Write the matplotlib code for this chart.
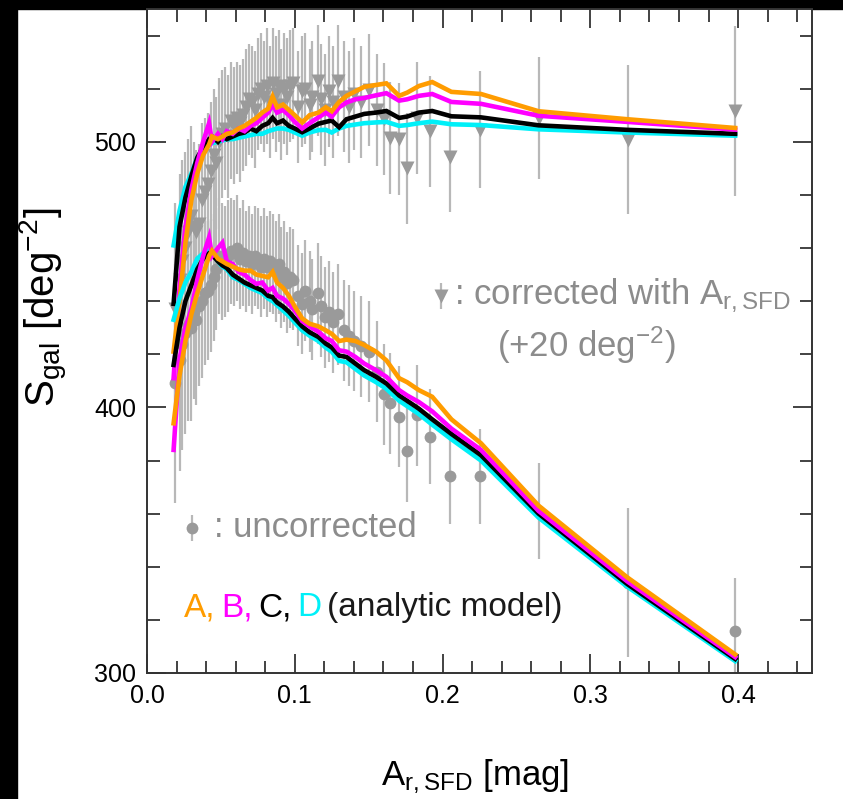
import matplotlib
matplotlib.use("Agg")
import matplotlib.pyplot as plt
import numpy as np

plt.rcParams['font.family'] = ['Liberation Sans', 'DejaVu Sans']
plt.rcParams['mathtext.fontset'] = 'custom'
plt.rcParams['mathtext.rm'] = 'Liberation Sans'
plt.rcParams['mathtext.it'] = 'Liberation Sans:italic'
plt.rcParams['mathtext.bf'] = 'Liberation Sans:bold'

# ---------------- data: observed bins ----------------
x_obs = [0.019, 0.022, 0.024, 0.026, 0.028, 0.030, 0.032, 0.033, 0.035, 0.037,
         0.039, 0.041, 0.043, 0.045, 0.047, 0.049, 0.051, 0.053, 0.055, 0.057,
         0.059, 0.061, 0.063, 0.065, 0.067, 0.069, 0.071, 0.073, 0.075, 0.077,
         0.079, 0.081, 0.083, 0.085, 0.087, 0.089, 0.091, 0.093, 0.095, 0.097,
         0.099, 0.1025, 0.105, 0.107, 0.110, 0.1115, 0.116, 0.118, 0.1205, 0.123,
         0.126, 0.1295, 0.133, 0.1365, 0.140, 0.1445, 0.150, 0.1555, 0.1605, 0.1644,
         0.1705, 0.1757, 0.1826, 0.1915, 0.2049, 0.2252, 0.2653, 0.3255, 0.398]

# corrected with A_r,SFD (+20 deg^-2)
s_corr = [437, 448, 455, 460, 466, 472, 468, 466, 469, 478,
          481, 484, 489, 495, 492, 500, 503, 505, 502, 508,
          506, 509, 507, 510, 513, 516, 515, 512, 518, 520,
          517, 521, 515, 522, 518, 521, 514, 520, 517, 521,
          522, 513, 519, 520, 514, 517, 523, 516, 512, 519,
          515, 523, 517, 513, 518, 515, 519.6, 512, 508.6, 501.4,
          501, 490, 508.9, 503.9, 494.4, 504.5, 509, 500.8, 511.5]
e_corr = [40, 40, 38, 36, 35, 34, 32, 31, 30, 29,
          28, 27, 26, 25, 25, 24, 24, 23, 23, 22,
          22, 21, 22, 21, 22, 21, 21, 22, 21, 21,
          21, 22, 21, 21, 22, 21, 21, 21, 22, 21,
          21, 21, 21, 21, 21, 21, 21, 21, 21, 21,
          21, 21, 21, 21, 21, 21, 21, 21, 21, 21,
          21, 21, 21, 21, 21, 22, 23, 28, 32]

# uncorrected
s_unc = [409, 418, 424, 428, 431, 430, 436, 433, 438, 440,
         443, 444, 446, 449, 452, 457, 455, 455, 457, 459,
         458, 460, 456, 458, 455, 457, 454, 457, 456, 453,
         456, 453, 455, 454, 451, 454, 449, 451, 447, 449,
         448, 442, 439, 444, 440, 437, 443, 438, 434, 436,
         432, 435, 429, 427, 425, 423, 421, 413.5, 405, 401.6,
         396.5, 383.4, 397, 389, 374, 374, 361, 334, 315.8]
e_unc = [45, 42, 40, 38, 36, 35, 33, 32, 30, 29,
         27, 26, 25, 24, 23, 22, 22, 21, 21, 20,
         20, 20, 19, 20, 19, 19, 19, 19, 19, 19,
         19, 19, 19, 19, 19, 19, 19, 19, 19, 19,
         19, 19, 19, 19, 19, 19, 19, 19, 19, 19,
         19, 19, 19, 19, 19, 19, 19, 19, 19, 19,
         19, 19, 19, 18, 18, 18, 18, 28, 20]

# ---------------- data: analytic models ----------------
x_mod = [0.018, 0.022, 0.026, 0.030, 0.034, 0.038, 0.042, 0.044, 0.048, 0.051,
         0.054, 0.058, 0.062, 0.066, 0.070, 0.074, 0.078, 0.082, 0.085, 0.088,
         0.092, 0.096, 0.100, 0.105, 0.110, 0.116, 0.121, 0.125, 0.130, 0.135,
         0.141, 0.147, 0.155, 0.162, 0.1706, 0.176, 0.184, 0.193, 0.206, 0.226,
         0.265, 0.325, 0.398]

A_corr = [421, 440, 462, 478, 488, 495, 499, 502, 501, 502,
          503, 503.5, 505, 506, 507.5, 509, 511, 512.5, 517, 513,
          514, 512, 510, 507.3, 510, 511, 513, 511.5, 515, 517.3,
          519, 520.7, 521.4, 522, 517.3, 518.5, 521, 522.5, 518.8, 518,
          511.5, 508.5, 505.2]
B_corr = [411, 445, 468, 482, 492, 500, 507, 500, 503, 501,
          504, 503, 505, 504, 506, 507, 509, 511, 514, 511,
          512, 510, 507.5, 505, 507, 509.2, 511, 509.5, 513, 514.8,
          516, 516.5, 517.5, 518.3, 515.5, 516, 517.3, 518, 515, 514.3,
          509.8, 507.5, 504.6]
C_corr = [439, 468, 479, 487, 494, 498, 501, 502, 500, 502,
          501, 502, 503, 503.5, 505, 504, 506, 507, 509, 507,
          508, 506, 505, 503.6, 505, 506.8, 507.5, 508, 505.5, 508.5,
          509.5, 510.5, 511, 511.6, 509, 509.5, 511, 511.6, 509.6, 509.2,
          506.2, 504.5, 503]
D_corr = [461, 474, 483, 488, 494, 497, 499, 499.5, 500, 500.5,
          501, 501, 501.5, 502, 502.5, 503, 503, 504, 504.5, 505,
          505, 504.5, 503.5, 502.3, 503.5, 504.4, 504.5, 503.5, 505, 506,
          506.5, 507, 507.3, 507.5, 506, 506.3, 507, 507.6, 506.6, 506.3,
          504.7, 503.5, 502.3]

A_unc = [394, 412, 425, 435, 443, 450, 457, 459, 456, 455,
         454, 453, 452, 451.5, 451.5, 450, 449.5, 449, 451, 447,
         445, 442, 438, 433.5, 431.5, 430.5, 429, 427.7, 425, 425.5,
         425, 423.5, 421, 417.7, 411, 409.5, 406.5, 404, 395.5, 386.5,
         363, 336, 307]
B_unc = [384, 418, 430, 437, 448, 457, 464, 457, 460, 462,
         455, 454, 451, 450, 448, 446.5, 447, 444, 445, 442,
         441, 439, 436.5, 432.5, 430.5, 428.5, 426, 425, 421.5, 421,
         419, 416.5, 414, 411.5, 406.5, 404.5, 402, 398.5, 392, 384,
         361, 334.5, 306]
C_unc = [416, 430, 440, 446, 452, 456, 458, 457.5, 455, 453.5,
         452.5, 450, 448.5, 447, 446, 445, 444, 442, 441.5, 439.5,
         438, 436, 433.5, 430.5, 428.3, 426.5, 424, 422.6, 419.5, 419,
         416.5, 414, 411.5, 409, 404.5, 402.5, 399.5, 395.5, 390, 382,
         360, 333.5, 305.3]
D_unc = [433, 441, 447, 451, 456, 458, 459, 458, 455, 453,
         452, 449, 448, 446.5, 445, 444, 443, 441, 440, 438.5,
         436.5, 434.5, 432, 429, 427, 425, 422.5, 421, 417.5, 417,
         414.5, 412, 409.5, 407, 402.5, 400.5, 397.5, 393.5, 388, 380,
         358.5, 332.5, 304.5]

x_ticks = [0.0, 0.1, 0.2, 0.3, 0.4]
y_ticks = [300, 400, 500]

# ---------------- styling ----------------
ORANGE = '#FF9C00'
MAGENTA = '#FF00FF'
BLACK = '#000000'
CYAN = '#00F0F8'
GRAY_M = '#9a9a9a'
GRAY_E = '#b8b8b8'

fig = plt.figure(figsize=(8.43, 7.99), dpi=100)
fig.patch.set_facecolor('white')
W, H = 843, 799
ax = fig.add_axes([147 / W, 1 - 673 / H, (812 - 147) / W, (673 - 9) / H])

# black frame strips of the original image
fig.patches.append(plt.Rectangle((0, 1 - 9 / H), 1, 9 / H, transform=fig.transFigure,
                                 color='black', zorder=-10))
fig.patches.append(plt.Rectangle((0, 0), 17 / W, 1, transform=fig.transFigure,
                                 color='black', zorder=-10))

# observed points
ax.errorbar(x_obs, s_corr, yerr=e_corr, fmt='v', ms=10, color=GRAY_M, mec='none',
            ecolor=GRAY_E, elinewidth=1.6, capsize=0, zorder=2)
ax.errorbar(x_obs, s_unc, yerr=e_unc, fmt='o', ms=8.5, color=GRAY_M, mec='none',
            ecolor=GRAY_E, elinewidth=1.6, capsize=0, zorder=2)

# models
lw = 3.3
for ys, c in [(D_corr, CYAN), (C_corr, BLACK), (B_corr, MAGENTA), (A_corr, ORANGE)]:
    ax.plot(x_mod, ys, color=c, lw=lw, zorder=3, solid_joinstyle='miter')
for ys, c in [(D_unc, CYAN), (C_unc, BLACK), (B_unc, MAGENTA), (A_unc, ORANGE)]:
    ax.plot(x_mod, ys, color=c, lw=lw, zorder=3, solid_joinstyle='miter')

ax.set_xlim(0, 0.45)
ax.set_ylim(300, 550)
ax.set_xticks(x_ticks)
ax.set_xticklabels(['%.1f' % t for t in x_ticks])
ax.set_yticks(y_ticks)
ax.set_xticks(np.arange(0, 0.451, 0.02), minor=True)
ax.set_yticks(np.arange(300, 551, 20), minor=True)
ax.tick_params(which='both', direction='in', top=True, right=True, color='#222222',
               labelsize=18, width=1.2, pad=8)
ax.tick_params(which='major', length=14)
ax.tick_params(which='minor', length=9)
for s in ax.spines.values():
    s.set_linewidth(1.4)
    s.set_color('#333333')

ax.set_xlabel(r'A$_{\mathrm{r,SFD}}$ [mag]', fontsize=25)
ax.xaxis.set_label_coords(0.493, -0.128)
ax.set_ylabel(r'S$_{\mathrm{gal}}$ [deg$^{-2}$]', fontsize=29)
ax.yaxis.set_label_coords(-0.116, 0.55)

# annotations
TXT_G = '#8c8c8c'
ax.errorbar([0.199], [442], yerr=[5], fmt='v', ms=10, color=GRAY_M, mec='none',
            ecolor=GRAY_E, elinewidth=1.6, capsize=0)
ax.text(0.2075, 442, r': corrected with A$_{\mathrm{r,SFD}}$', color=TXT_G,
        fontsize=25, va='center', ha='left')
ax.text(0.297, 423.5, r'(+20 deg$^{-2}$)', color=TXT_G, fontsize=25,
        va='center', ha='center')

ax.errorbar([0.0304], [354.6], yerr=[5], fmt='o', ms=8.5, color=GRAY_M, mec='none',
            ecolor=GRAY_E, elinewidth=1.6, capsize=0)
ax.text(0.0455, 354.6, ': uncorrected', color=TXT_G, fontsize=25,
        va='center', ha='left')

pieces = [('A,', ORANGE), ('B,', MAGENTA), ('C,', BLACK), ('D', CYAN),
          ('(analytic model)', '#1a1a1a')]
prev = ax.text(0.025, 324.5, pieces[0][0], color=pieces[0][1], fontsize=24,
               va='center', ha='left')
for txt, col in pieces[1:]:
    prev = ax.annotate(txt, xy=(1, 0), xycoords=prev, xytext=(4, 0),
                       textcoords='offset points', va='bottom', ha='left',
                       color=col, fontsize=24)

fig.savefig('out.png', dpi=100, facecolor='white')
